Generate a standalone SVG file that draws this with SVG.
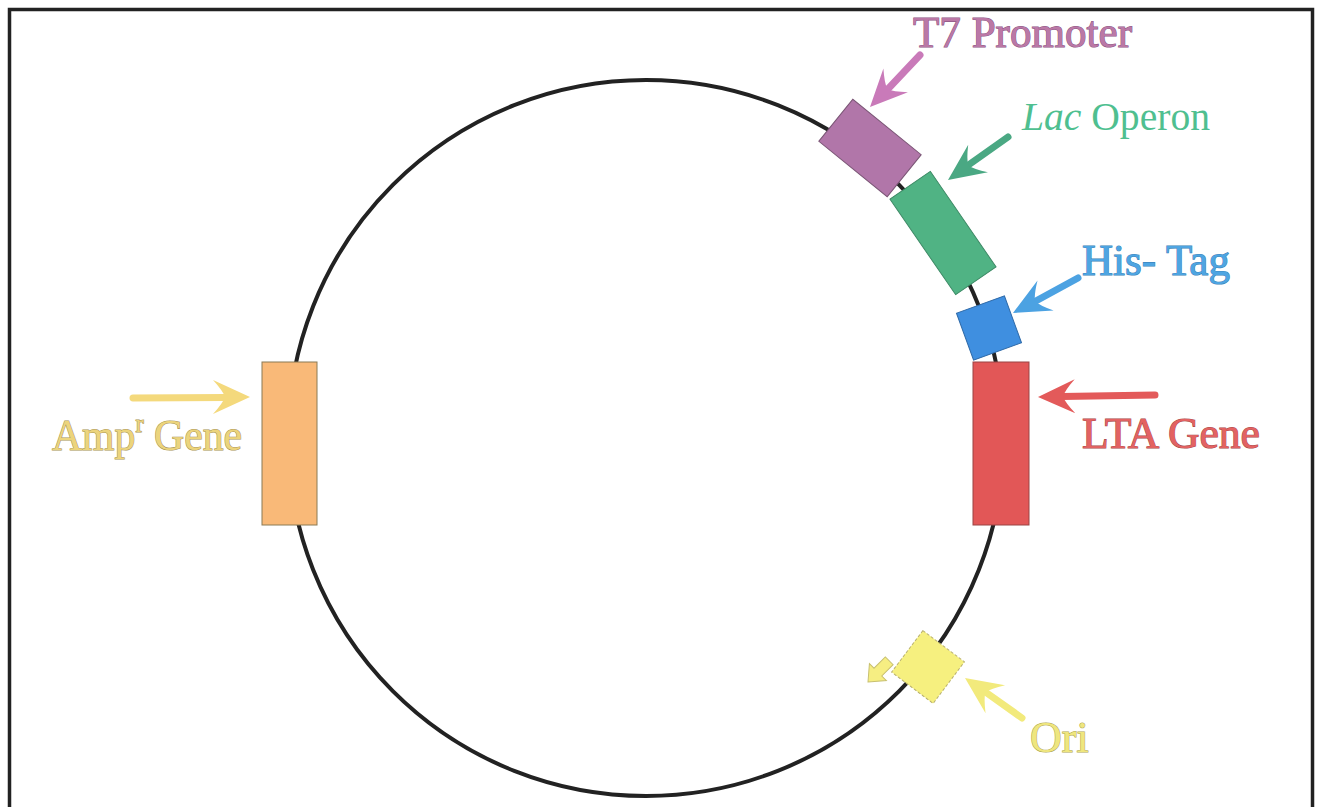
<svg xmlns="http://www.w3.org/2000/svg" width="1317" height="807" viewBox="0 0 1317 807">
  <defs>
    <style>
      .lbl { font-family: "Liberation Serif", "Times New Roman", serif; font-size: 44px; stroke-width: 1.1px; paint-order: stroke; }
      .shaft { stroke-width: 7; stroke-linecap: round; fill: none; }
      .box { stroke-width: 1; }
    </style>
    <path id="head" d="M0,0 L-37,-17 Q-27,-6 -25,0 Q-27,6 -37,17 Z"/>
  </defs>

  <rect x="0" y="0" width="1317" height="807" fill="#ffffff"/>
  <rect x="9.5" y="9.5" width="1303" height="812" fill="none" stroke="#222" stroke-width="3.5"/>

  <g id="plasmid">
    <circle cx="646" cy="438" r="358" fill="none" stroke="#222" stroke-width="4"/>
  </g>

  <g id="amp">
    <rect class="box" x="262" y="362" width="55" height="163" fill="#f9b978" stroke="#8a7a55"/>
    <text class="lbl" x="52" y="450" fill="#ecd47c" stroke="#a89455" textLength="190" lengthAdjust="spacingAndGlyphs">Amp<tspan font-size="26" dy="-18">r</tspan><tspan dy="18"> Gene</tspan></text>
  </g>

  <g id="lta">
    <rect class="box" x="973" y="362" width="56" height="163" fill="#e25757" stroke="#9a4545"/>
    <text class="lbl" x="1082" y="448" fill="#e36262" stroke="#a84848" textLength="178" lengthAdjust="spacingAndGlyphs">LTA Gene</text>
  </g>

  <g id="t7">
    <rect class="box" x="-44" y="-27" width="88" height="54" transform="translate(870,148) rotate(39)" fill="#b176a9" stroke="#7a5575"/>
    <text class="lbl" x="913" y="47" font-size="45" fill="#bb78a6" stroke="#8a5583" textLength="219" lengthAdjust="spacingAndGlyphs">T7 Promoter</text>
  </g>

  <g id="lac">
    <rect class="box" x="-58" y="-24.5" width="116" height="49" transform="translate(943,233) rotate(55.5)" fill="#50b384" stroke="#3e8a66"/>
    <text x="1022" y="130" font-family="&quot;Liberation Serif&quot;, &quot;Times New Roman&quot;, serif" font-size="41" fill="#4fbf90" textLength="188" lengthAdjust="spacingAndGlyphs"><tspan font-style="italic">Lac</tspan> Operon</text>
  </g>

  <g id="histag">
    <rect class="box" x="-25.5" y="-25" width="51" height="50" transform="translate(989,328) rotate(-20)" fill="#3f8fe0" stroke="#2f6aa8"/>
    <text class="lbl" x="1082" y="275" fill="#4ea5e2" stroke="#3a82b8" textLength="148" lengthAdjust="spacingAndGlyphs">His- Tag</text>
  </g>

  <g id="ori">
    <rect class="box" x="-26" y="-26" width="52" height="52" transform="translate(928,667) rotate(37)" fill="#f6f07f" stroke="#b8b070" stroke-dasharray="3 2"/>
    <polygon points="0,0 -14,-12 -14,-5.5 -30,-5.5 -30,5.5 -14,5.5 -14,12" transform="translate(868,682) rotate(135)" fill="#f6ee82" stroke="#c8c070" stroke-width="1"/>
    <text class="lbl" x="1030" y="752" font-size="41" fill="#efe67e" stroke="#b0a855">Ori</text>
  </g>

  <g id="connectors">
    <g fill="#c97ab9" stroke="#c97ab9">
      <line class="shaft" x1="920" y1="55" x2="887" y2="90"/>
      <use href="#head" transform="translate(870,107) rotate(133.9)" stroke="none"/>
    </g>
    <g fill="#4aa883" stroke="#4aa883">
      <line class="shaft" x1="1008" y1="137" x2="967" y2="166"/>
      <use href="#head" transform="translate(948,180) rotate(144.4)" stroke="none"/>
    </g>
    <g fill="#4ca2e2" stroke="#4ca2e2">
      <line class="shaft" x1="1078" y1="278" x2="1034" y2="302"/>
      <use href="#head" transform="translate(1013,313) rotate(151.7)" stroke="none"/>
    </g>
    <g fill="#e35a5a" stroke="#e35a5a">
      <line class="shaft" x1="1155" y1="395" x2="1062" y2="396.5"/>
      <use href="#head" transform="translate(1038,397) rotate(179)" stroke="none"/>
    </g>
    <g fill="#f4d97c" stroke="#f4d97c">
      <line class="shaft" x1="133" y1="398" x2="226" y2="397.5"/>
      <use href="#head" transform="translate(250,397) rotate(0)" stroke="none"/>
    </g>
    <g fill="#f2ea7c" stroke="#f2ea7c">
      <line class="shaft" x1="1022" y1="718" x2="984" y2="691"/>
      <use href="#head" transform="translate(965,678) rotate(215)" stroke="none"/>
    </g>
  </g>
</svg>
